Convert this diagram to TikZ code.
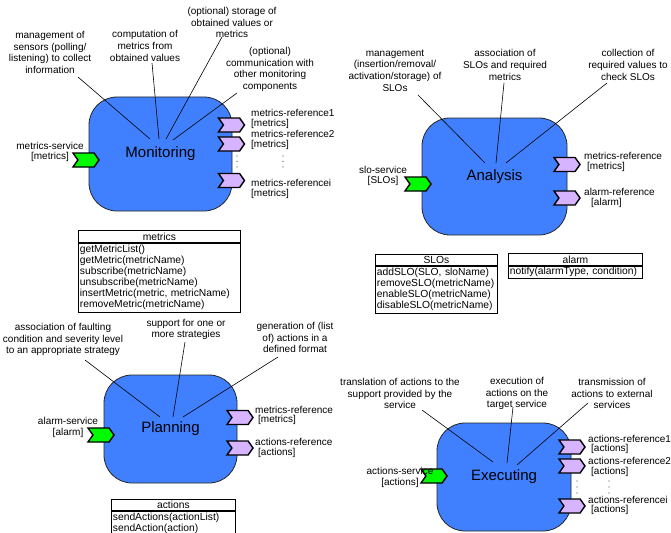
\documentclass[tikz,border=0pt]{standalone}
\usepackage{fontspec}
\setmainfont{Liberation Sans}
\usetikzlibrary{shapes.symbols}

\definecolor{compblue}{RGB}{64,128,255}
\definecolor{provgreen}{RGB}{0,250,0}
\definecolor{reqlilac}{RGB}{214,180,255}

\tikzset{
  comp/.style={draw=black!85, line width=0.8pt, fill=compblue, rounded corners=28pt,
    font=\fontsize{15}{18}\selectfont, inner sep=0pt},
  portbase/.style={signal, signal from=west, signal to=east, signal pointer angle=110,
    draw=black, line width=1.4pt, minimum width=26pt, minimum height=14pt, inner sep=0pt},
  provided/.style={portbase, fill=provgreen},
  required/.style={portbase, fill=reqlilac},
  svclbl/.style={font=\fontsize{10}{10.5}\selectfont, align=center, inner sep=0pt},
  reflbl/.style={font=\fontsize{10}{9.5}\selectfont, align=left, anchor=west, inner sep=0pt},
  note/.style={font=\fontsize{10}{11.7}\selectfont, align=center, inner sep=0pt},
  noteline/.style={draw=black, line width=0.6pt},
  ifhead/.style={draw=black, line width=0.8pt, font=\fontsize{10.3}{11}\selectfont,
    minimum height=#1, inner sep=0pt, anchor=north west},
  ifbody/.style={draw=black, line width=0.8pt, font=\fontsize{10.3}{11}\selectfont,
    text width=#1, align=left, inner xsep=1.5pt, inner ysep=2.3pt, anchor=north west},
  dot/.style={fill=black!70}
}

\begin{document}
\begin{tikzpicture}[x=1pt, y=-1pt]
  \path[use as bounding box, clip] (0,0) rectangle (671,532);
  \fill[white] (0,0) rectangle (671,532);

  % ---------------- Monitoring ----------------
  \node[comp, minimum width=143pt, minimum height=114pt] (mon) at (160.5,154) {Monitoring};
  \node[provided] (monsvc) at (86,160) {};
  \node[required] (monref1) at (231.5,125) {};
  \node[required] (monref2) at (231.5,144) {};
  \node[required] (monrefi) at (231.5,180.5) {};
  \node[svclbl] (monsvcl) at (50,152) {metrics-service\\{[metrics]}};
  \node[reflbl] (monref1l) at (251,119) {metrics-reference1\\{[metrics]}};
  \node[reflbl] (monref2l) at (251,140) {metrics-reference2\\{[metrics]}};
  \node[reflbl] (monrefil) at (251,189) {metrics-referencei\\{[metrics]}};
  \foreach \yy in {156,161.5,167} {
    \fill[dot] (237,\yy) circle (0.6);
    \fill[dot] (283,\yy) circle (0.6);
  }

  \node[note] (monn1) at (50,52.5) {management of\\sensors (polling/\\listening) to collect\\information};
  \node[note] (monn2) at (145,46) {computation of\\metrics from\\obtained values};
  \node[note] (monn3) at (232,22.5) {(optional) storage of\\obtained values or\\metrics};
  \node[note] (monn4) at (270,69.5) {(optional)\\communication with\\other monitoring\\components};
  \coordinate (monn1s) at (78,77);   \coordinate (monn1e) at (150,139);
  \coordinate (monn2s) at (152,63);  \coordinate (monn2e) at (159,139);
  \coordinate (monn3s) at (222,37);  \coordinate (monn3e) at (166,139);
  \coordinate (monn4s) at (237,93);  \coordinate (monn4e) at (173,140);
  \draw[noteline] (monn1s) -- (monn1e);
  \draw[noteline] (monn2s) -- (monn2e);
  \draw[noteline] (monn3s) -- (monn3e);
  \draw[noteline] (monn4s) -- (monn4e);

  % metrics interface
  \node[ifhead=12pt, minimum width=162pt] (metricsH) at (78,230) {metrics};
  \node[ifbody=159pt] (metricsB) at (metricsH.south west) {getMetricList()\\getMetric(metricName)\\subscribe(metricName)\\unsubscribe(metricName)\\insertMetric(metric, metricName)\\removeMetric(metricName)};

  % ---------------- Analysis ----------------
  \node[comp, minimum width=145pt, minimum height=117pt] (ana) at (494.5,176.5) {Analysis};
  \node[provided] (anasvc) at (418,184) {};
  \node[required] (anaref1) at (567,164.5) {};
  \node[required] (anaref2) at (567,198) {};
  \node[svclbl] (anasvcl) at (383,176) {slo-service\\{[SLOs]}};
  \node[reflbl] (anaref1l) at (584,162) {metrics-reference\\\hspace*{3pt}[metrics]};
  \node[reflbl] (anaref2l) at (584,198) {alarm-reference\\\hspace*{7pt}[alarm]};

  \node[note] (anan1) at (395,70.5) {management\\(insertion/removal/\\activation/storage) of\\SLOs};
  \node[note] (anan2) at (505,65) {association of\\SLOs and required\\metrics};
  \node[note] (anan3) at (628,65) {collection of\\required values to\\check SLOs};
  \coordinate (anan1s) at (418,95);  \coordinate (anan1e) at (485,163);
  \coordinate (anan2s) at (504,83);  \coordinate (anan2e) at (496,163);
  \coordinate (anan3s) at (607,83);  \coordinate (anan3e) at (506,163);
  \draw[noteline] (anan1s) -- (anan1e);
  \draw[noteline] (anan2s) -- (anan2e);
  \draw[noteline] (anan3s) -- (anan3e);

  % SLOs and alarm interfaces
  \node[ifhead=11pt, minimum width=122pt] (slosH) at (375,254) {SLOs};
  \node[ifbody=119pt] (slosB) at (slosH.south west) {addSLO(SLO, sloName)\\removeSLO(metricName)\\enableSLO(metricName)\\disableSLO(metricName)};
  \node[ifhead=12pt, minimum width=134pt] (alarmH) at (508,253) {alarm};
  \node[ifbody=131pt, inner ysep=1.2pt] (alarmB) at (alarmH.south west) {notify(alarmType, condition)};

  % ---------------- Planning ----------------
  \node[comp, minimum width=133pt, minimum height=108pt] (pla) at (170.5,429) {Planning};
  \node[provided] (plasvc) at (101,435) {};
  \node[required] (plaref1) at (240,417.5) {};
  \node[required] (plaref2) at (240,448) {};
  \node[svclbl] (plasvcl) at (68,427.5) {alarm-service\\{[alarm]}};
  \node[reflbl] (plaref1l) at (255,415.5) {metrics-reference\\\hspace*{3pt}[metrics]};
  \node[reflbl] (plaref2l) at (255,448) {actions-reference\\\hspace*{3pt}[actions]};

  \node[note] (plan1) at (63,339.5) {association of faulting\\condition and severity level\\to an appropriate strategy};
  \node[note] (plan2) at (186,329.5) {support for one or\\more strategies};
  \node[note] (plan3) at (295,337.5) {generation of (list\\of) actions in a\\defined format};
  \coordinate (plan1s) at (85,360);  \coordinate (plan1e) at (160,417);
  \coordinate (plan2s) at (185,342); \coordinate (plan2e) at (173,417);
  \coordinate (plan3s) at (278,357); \coordinate (plan3e) at (183,417);
  \draw[noteline] (plan1s) -- (plan1e);
  \draw[noteline] (plan2s) -- (plan2e);
  \draw[noteline] (plan3s) -- (plan3e);

  % actions interface
  \node[ifhead=11pt, minimum width=124pt] (actionsH) at (111,499) {actions};
  \node[ifbody=121pt, inner ysep=1.5pt] (actionsB) at (actionsH.south west) {sendActions(actionList)\\sendAction(action)\\ };

  % ---------------- Executing ----------------
  \node[comp, minimum width=134pt, minimum height=108pt] (exe) at (504,477) {Executing};
  \node[provided] (exesvc) at (434,476) {};
  \node[required] (exeref1) at (572,447) {};
  \node[required] (exeref2) at (572,466) {};
  \node[required] (exerefi) at (572,506) {};
  \node[svclbl] (exesvcl) at (400,477.5) {actions-service\\{[actions]}};
  \node[reflbl] (exeref1l) at (588,444.5) {actions-reference1\\\hspace*{3pt}[actions]};
  \node[reflbl] (exeref2l) at (588,467) {actions-reference2\\\hspace*{3pt}[actions]};
  \node[reflbl] (exerefil) at (588,505.5) {actions-referencei\\\hspace*{3pt}[actions]};
  \foreach \yy in {481,487,493} {
    \fill[dot] (577,\yy) circle (0.6);
    \fill[dot] (609,\yy) circle (0.6);
  }

  \node[note] (exen1) at (400,393.5) {translation of actions to the\\support provided by the\\service};
  \node[note] (exen2) at (517,393.5) {execution of\\actions on the\\target service};
  \node[note] (exen3) at (612,393.5) {transmission of\\actions to external\\services};
  \coordinate (exen1s) at (422,410); \coordinate (exen1e) at (493,462);
  \coordinate (exen2s) at (513,407); \coordinate (exen2e) at (507,463);
  \coordinate (exen3s) at (588,403); \coordinate (exen3e) at (517,465);
  \draw[noteline] (exen1s) -- (exen1e);
  \draw[noteline] (exen2s) -- (exen2e);
  \draw[noteline] (exen3s) -- (exen3e);
\end{tikzpicture}
\end{document}
